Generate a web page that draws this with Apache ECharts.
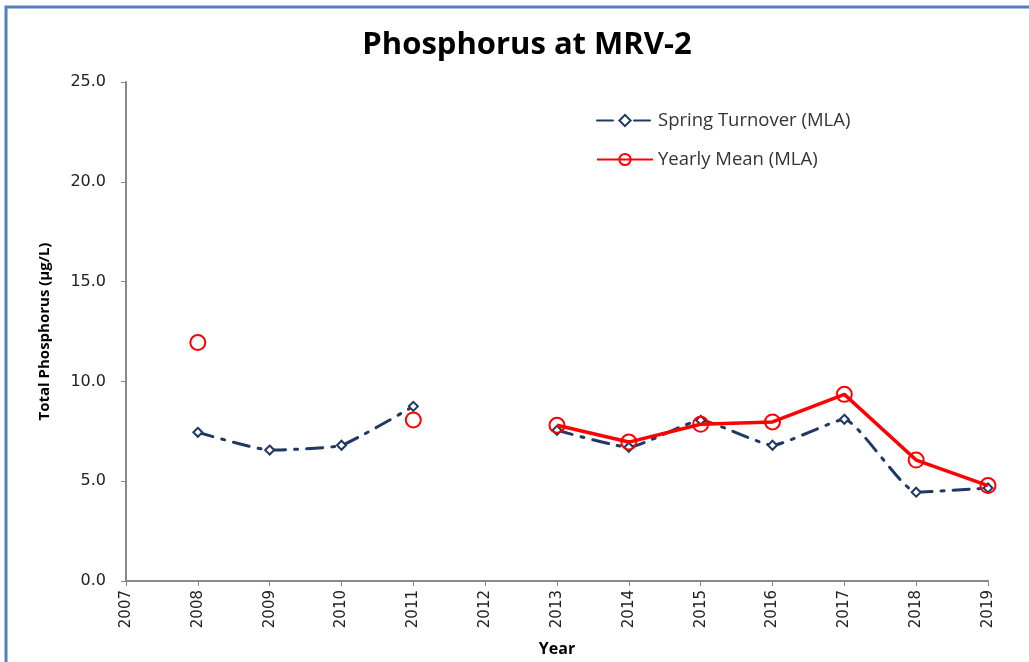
<!DOCTYPE html>
<html>
<head>
<meta charset="utf-8">
<script src="https://cdn.jsdelivr.net/npm/echarts@6/dist/echarts.min.js"></script>
<style>
html,body{margin:0;padding:0;background:#fff;}
#chart{width:1029px;height:662px;}
</style>
</head>
<body>
<div id="chart"></div>
<script>
const years = [2007, 2008, 2009, 2010, 2011, 2012, 2013, 2014, 2015, 2016, 2017, 2018, 2019];
const springTurnover = [null, 7.45, 6.56, 6.8, 8.75, null, 7.55, 6.7, 8.05, 6.8, 8.1, 4.45, 4.66];
const yearlyMean = [null, 11.95, null, null, 8.07, null, 7.8, 6.96, 7.85, 7.97, 9.35, 6.06, 4.78];
const yTicks = [0, 5, 10, 15, 20, 25];

const chart = echarts.init(document.getElementById('chart'));
const pairs = arr => years.map((y, i) => [y, arr[i]]);

chart.setOption({
  backgroundColor: '#ffffff',
  animation: false,
  title: {
    text: 'Phosphorus at MRV-2',
    left: 522,
    textAlign: 'center',
    top: 25,
    textStyle: {fontFamily: 'Open Sans', fontWeight: 'bold', fontSize: 31, color: '#000'}
  },
  graphic: [
    {type: 'polyline', shape: {points: [[6, 662], [6, 7], [1029, 7]]}, style: {stroke: '#4f81bd', lineWidth: 3, fill: null}, silent: true}
  ],
  legend: {
    orient: 'vertical',
    left: 591,
    top: 106,
    itemWidth: 56,
    itemHeight: 14,
    itemGap: 20,
    textStyle: {fontFamily: 'Open Sans', fontSize: 18.5, color: '#333'},
    data: ['Spring Turnover (MLA)', 'Yearly Mean (MLA)']
  },
  grid: {left: 126, right: 41, top: 82, bottom: 81, outerBoundsMode: 'none', containLabel: false},
  xAxis: {
    type: 'value',
    min: 2007, max: 2019, interval: 1,
    name: 'Year',
    nameLocation: 'middle',
    nameGap: 60,
    nameTextStyle: {fontFamily: 'Open Sans', fontWeight: 'bold', fontSize: 16, color: '#000'},
    axisLine: {lineStyle: {color: '#888', width: 2}},
    axisTick: {show: true, length: 5, lineStyle: {color: '#888'}},
    splitLine: {show: false},
    axisLabel: {rotate: 90, fontFamily: 'DejaVu Sans', fontSize: 15, color: '#222', margin: 9, formatter: v => String(v)}
  },
  yAxis: {
    type: 'value',
    min: 0, max: 25, interval: 5,
    name: 'Total Phosphorus (µg/L)',
    nameLocation: 'middle',
    nameGap: 74,
    nameTextStyle: {fontFamily: 'Open Sans', fontWeight: 'bold', fontSize: 15, color: '#000'},
    axisLine: {show: true, lineStyle: {color: '#888', width: 2}},
    axisTick: {show: true, length: 5, lineStyle: {color: '#888'}},
    splitLine: {show: false},
    axisLabel: {fontFamily: 'DejaVu Sans', fontSize: 16, color: '#222', margin: 20,
      formatter: v => yTicks.includes(v) ? v.toFixed(1) : ''}
  },
  series: [
    {
      name: 'Spring Turnover (MLA)',
      type: 'line',
      data: pairs(springTurnover),
      smooth: 0.15,
      connectNulls: false,
      symbol: 'diamond',
      symbolSize: 9,
      showSymbol: true,
      itemStyle: {color: '#fff', borderColor: '#1f3864', borderWidth: 2},
      lineStyle: {color: '#1f3864', width: 3, type: [16, 9, 3, 9], cap: 'round'},
      z: 2
    },
    {
      name: 'Yearly Mean (MLA)',
      type: 'line',
      data: pairs(yearlyMean),
      smooth: false,
      connectNulls: false,
      symbol: 'circle',
      symbolSize: 15,
      showSymbol: true,
      itemStyle: {color: 'transparent', borderColor: '#ff0000', borderWidth: 2},
      lineStyle: {color: '#ff0000', width: 3.5},
      z: 3
    }
  ]
});
</script>
</body>
</html>
